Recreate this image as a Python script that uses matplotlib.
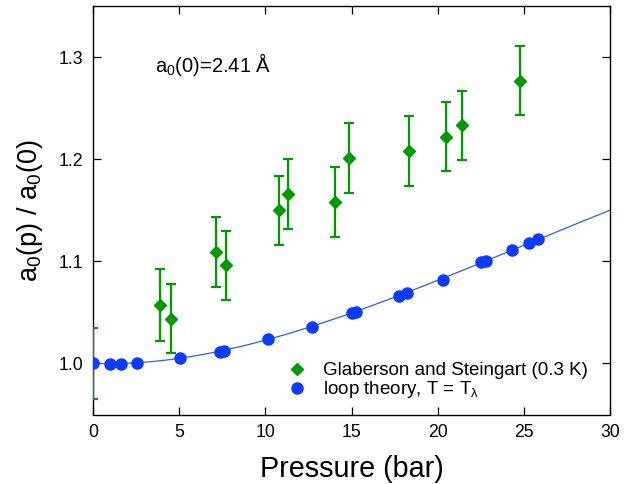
import numpy as np
import matplotlib
matplotlib.use("Agg")
import matplotlib.pyplot as plt
from matplotlib.lines import Line2D

plt.rcParams["font.family"] = ["Liberation Sans", "DejaVu Sans"]
plt.rcParams["mathtext.fontset"] = "custom"
plt.rcParams["mathtext.rm"] = "Liberation Sans"
plt.rcParams["mathtext.it"] = "Liberation Sans"

# Glaberson and Steingart (0.3 K)
gs_p = [0.0, 3.87, 4.55, 7.16, 7.69, 10.78, 11.31, 14.04, 14.84, 18.35, 20.48, 21.40, 24.78]
gs_a = [1.000, 1.057, 1.044, 1.109, 1.096, 1.150, 1.166, 1.158, 1.201, 1.208, 1.222, 1.233, 1.277]
gs_err = [0.035, 0.035, 0.034, 0.034, 0.034, 0.034, 0.034, 0.034, 0.034, 0.034, 0.034, 0.034, 0.034]

# loop theory points
lt_p = [0.0, 0.99, 1.63, 2.55, 5.07, 7.35, 7.60, 10.16, 12.68, 15.00, 15.26,
        17.75, 18.20, 20.30, 22.50, 22.80, 24.30, 25.30, 25.85]
lt_a = [1.000, 0.9995, 0.9995, 1.000, 1.005, 1.011, 1.012, 1.0235, 1.036, 1.0496, 1.0506,
        1.066, 1.069, 1.082, 1.099, 1.100, 1.111, 1.118, 1.122]

# loop theory curve
curve_p = [0, 2.5, 5, 7.5, 10, 12.5, 15, 17.5, 20, 22.5, 25, 27.5, 30]
curve_a = [1.000, 1.001, 1.005, 1.012, 1.023, 1.035, 1.050, 1.065, 1.081, 1.098, 1.116, 1.133, 1.150]

green = "#009a00"
blue = "#0a3cff"

fig = plt.figure(figsize=(6.35, 4.84), dpi=100)
ax = fig.add_axes([93 / 635, 1 - 414.5 / 484, (610 - 93) / 635, (414.5 - 6) / 484])

coef = np.polyfit(curve_p, curve_a, 4)
xs = np.linspace(0, 30, 300)
ax.plot(xs, np.polyval(coef, xs), color="#2a5cff", lw=0.9, zorder=2)

ax.errorbar(gs_p, gs_a, yerr=gs_err, fmt="D", color=green, ms=6.3, elinewidth=1.6,
            capsize=3.4, capthick=1.6, zorder=3)
ax.plot(lt_p, lt_a, "o", color=blue, ms=8, mec=blue, lw=0, zorder=4)

ax.set_xlim(0, 30)
ax.set_ylim(0.95, 1.35)
ax.set_xticks([0, 5, 10, 15, 20, 25, 30])
ax.set_yticks([1.0, 1.1, 1.2, 1.3])
ax.set_yticklabels(["1.0", "1.1", "1.2", "1.3"])
ax.tick_params(direction="in", top=True, right=True, length=6, width=0.9,
               labelsize=12.7, pad=7)
for s in ax.spines.values():
    s.set_linewidth(1.0)

ax.set_xlabel("Pressure (bar)", fontsize=20.7, labelpad=10)
ax.set_ylabel(r"a$_0$(p) / a$_0$(0)", fontsize=19.5, labelpad=10)

ax.text(3.6, 1.285, r"a$_0$(0)=2.41 Å", fontsize=14.5, va="baseline")

handles = [
    Line2D([], [], marker="D", color=green, ms=6.3, lw=0),
    Line2D([], [], marker="o", color=blue, ms=8, lw=0),
]
labels = ["Glaberson and Steingart (0.3 K)", r"loop theory, T = T$_\mathrm{\lambda}$"]
ax.legend(handles, labels, loc="upper left", bbox_to_anchor=((289 - 93) / 517, (414.5 - 362) / 408.5),
          frameon=False, fontsize=13.5, handlelength=0.8, handletextpad=1.0,
          labelspacing=0.0, borderaxespad=0.0, borderpad=0.0)

fig.savefig("out.png", dpi=100)
